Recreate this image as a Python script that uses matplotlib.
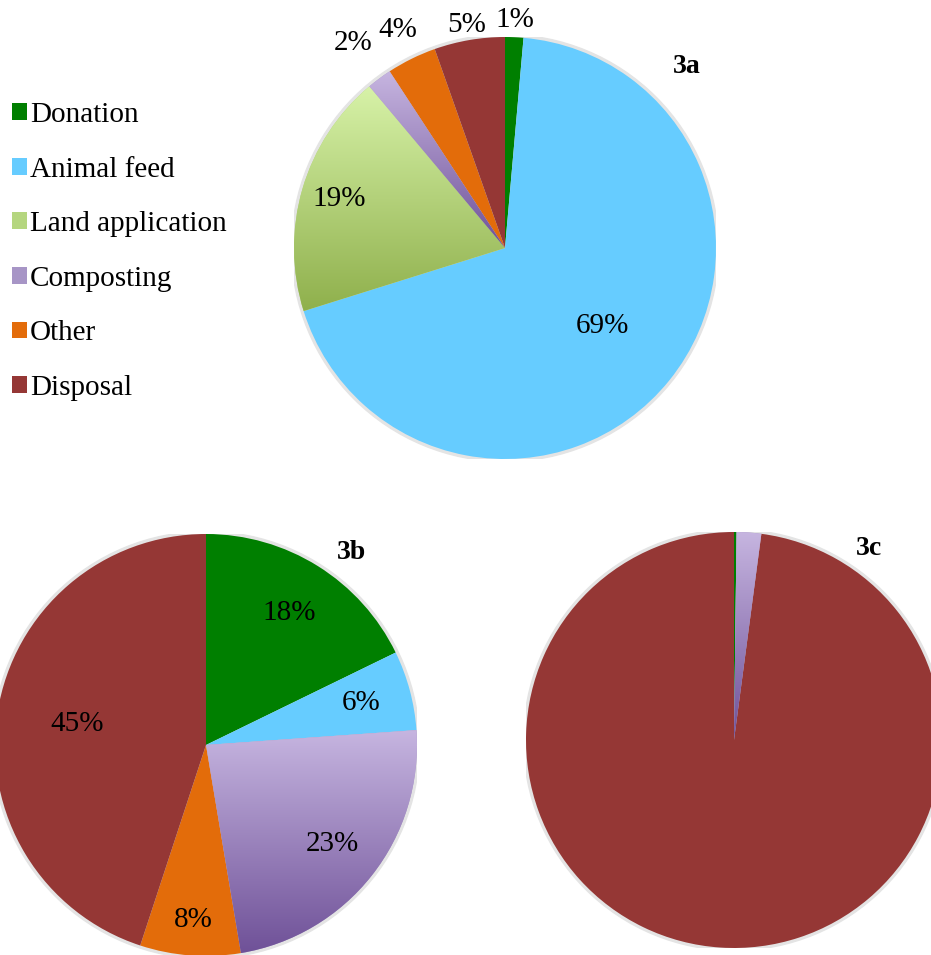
import numpy as np
import matplotlib
matplotlib.use("Agg")
import matplotlib.pyplot as plt
from matplotlib.patches import Patch, Circle
from matplotlib.colors import LinearSegmentedColormap

plt.rcParams['font.family'] = ['Liberation Serif', 'DejaVu Serif']

categories = ["Donation", "Animal feed", "Land application", "Composting", "Other", "Disposal"]
colors = ["#007f00", "#66ccff", "#b5d67f", "#a795c6", "#e36c0a", "#953735"]
# gradient fills (top colour, bottom colour) for two categories
gradients = {"Land application": ("#d7f2a8", "#8fb04c"),
             "Composting": ("#c6b5e0", "#6f5198")}

vals_3a = [1.4, 68.7, 18.7, 1.9, 3.8, 5.4]
labels_3a = ["1%", "69%", "19%", "2%", "4%", "5%"]
vals_3b = [17.8, 6.1, 0.0, 23.5, 7.7, 45.0]
labels_3b = ["18%", "6%", "", "23%", "8%", "45%"]
vals_3c = [0.2, 0.0, 0.0, 1.9, 0.0, 97.9]
labels_3c = ["", "", "", "", "", ""]

W, H = 931, 955
fig = plt.figure(figsize=(W / 100, H / 100), dpi=100)


def pie_axes(cx, cy, r):
    return fig.add_axes([(cx - r) / W, 1 - (cy + r) / H, 2 * r / W, 2 * r / H])


def draw_pie(ax, vals, labels, label_r, title, title_xy):
    ax.add_patch(Circle((0, 0), 1.012, color="#e4e4e4", zorder=0))
    wedges, _ = ax.pie(vals, colors=colors, startangle=90, counterclock=False,
                       radius=1, wedgeprops=dict(linewidth=0))
    for w, cat in zip(wedges, categories):
        if cat in gradients and w.theta2 - w.theta1 > 0:
            top, bot = gradients[cat]
            cmap = LinearSegmentedColormap.from_list(cat, [bot, top])
            ext = w.get_path().get_extents()
            grad = np.linspace(0, 1, 256).reshape(-1, 1)
            im = ax.imshow(grad, cmap=cmap, origin="lower", aspect="auto",
                           extent=[ext.x0, ext.x1, ext.y0, ext.y1], zorder=2)
            im.set_clip_path(w)
    for w, lab, rr in zip(wedges, labels, label_r):
        if not lab:
            continue
        ang = np.deg2rad((w.theta1 + w.theta2) / 2)
        ax.text(rr * np.cos(ang), rr * np.sin(ang), lab, ha="center", va="center",
                fontsize=21, zorder=5, clip_on=False)
    ax.text(title_xy[0], title_xy[1], title, ha="center", va="center",
            fontsize=20, fontweight="bold", clip_on=False)
    ax.set_xlim(-1, 1)
    ax.set_ylim(-1, 1)
    ax.set_aspect("equal")
    ax.axis("off")


ax_a = pie_axes(505, 248, 211)
draw_pie(ax_a, vals_3a, labels_3a, [1.08, 0.59, 0.82, 1.21, 1.15, 1.07], "3a", (0.86, 0.86))

ax_b = pie_axes(206, 745, 211)
draw_pie(ax_b, vals_3b, labels_3b, [0.74, 0.76, 0.7, 0.76, 0.83, 0.62], "3b", (0.69, 0.91))

ax_c = pie_axes(734, 740, 208)
draw_pie(ax_c, vals_3c, labels_3c, [0.7] * 6, "3c", (0.65, 0.92))

handles = []
for cat, col in zip(categories, colors):
    handles.append(Patch(facecolor=col, edgecolor="none"))
leg = fig.legend(handles, categories, loc="upper left", bbox_to_anchor=(12 / W, 1 - 102 / H),
                 frameon=False, fontsize=21, handlelength=0.5, handleheight=0.5,
                 handletextpad=0.12, labelspacing=0.98, borderpad=0, borderaxespad=0)

fig.savefig("out.png", dpi=100)
